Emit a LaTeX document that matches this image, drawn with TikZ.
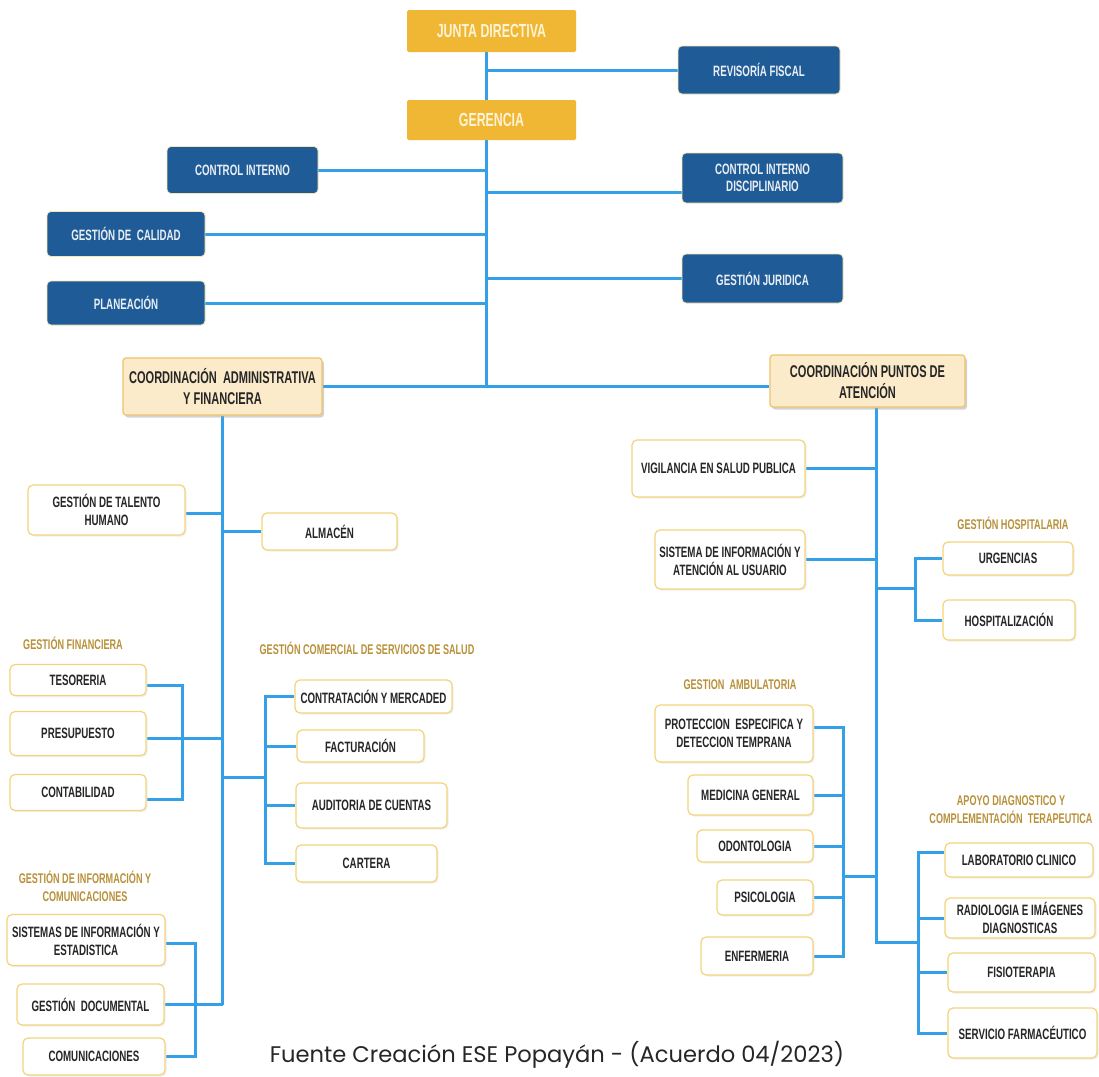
\documentclass[tikz,border=0pt]{standalone}
\usepackage{fontspec}
\usetikzlibrary{shadows,backgrounds}
\newfontfamily\nf[FakeStretch=0.65]{Liberation Sans}
\newfontfamily\capfont{Poppins}
\definecolor{goldf}{HTML}{EFB734}
\definecolor{goldtxt}{HTML}{FFF3D6}
\definecolor{blueb}{HTML}{1F5B97}
\definecolor{bluetxt}{HTML}{E9EEF4}
\definecolor{creamf}{HTML}{FCEBCB}
\definecolor{creamd}{HTML}{EDC46A}
\definecolor{wbord}{HTML}{F3D37A}
\definecolor{conncol}{HTML}{33A0E8}
\definecolor{lblcol}{HTML}{B8913A}
\definecolor{darktxt}{HTML}{262626}
\tikzset{
  sz/.style 2 args={minimum width=#1, minimum height=#2},
  basebox/.style={inner sep=0pt, align=center},
  goldbox/.style={basebox, fill=goldf, rounded corners=1.5pt, text=goldtxt,
    font=\nf\bfseries\fontsize{19}{20}\selectfont},
  bluebox/.style={basebox, fill=blueb, draw=wbord!60, line width=0.8pt, rounded corners=4pt, text=bluetxt,
    font=\nf\bfseries\fontsize{15}{17}\selectfont},
  creambox/.style={basebox, fill=creamf, draw=creamd, line width=1.2pt, rounded corners=3pt, text=darktxt,
    drop shadow={shadow xshift=2pt, shadow yshift=-2.5pt, fill=black!35},
    font=\nf\bfseries\fontsize{17}{21}\selectfont},
  wbox/.style={basebox, fill=white, draw=wbord, line width=1.2pt, rounded corners=5pt, text=darktxt,
    drop shadow={shadow xshift=1.5pt, shadow yshift=-1.5pt, fill=black!12},
    font=\nf\bfseries\fontsize{15}{18}\selectfont},
  grouplbl/.style={inner sep=0pt, align=center, text=lblcol,
    font=\nf\bfseries\fontsize{14}{18}\selectfont},
  conn/.style={draw=conncol, line width=3pt}
}
\begin{document}
\begin{tikzpicture}[x=1pt,y=-1pt]
\useasboundingbox (0,0) rectangle (1099,1076);

% ---- top level ----
\node[goldbox, sz={169}{42}] (JD) at (491.5,31) {JUNTA DIRECTIVA};
\node[goldbox, sz={169}{40}] (GER) at (491.5,120) {GERENCIA};

\node[bluebox, sz={162}{48}] (RF) at (759,70) {REVISORÍA FISCAL};
\node[bluebox, sz={151}{47}] (CI) at (242.5,170) {CONTROL INTERNO};
\node[bluebox, sz={161}{50}] (CID) at (762.5,178) {CONTROL INTERNO\\DISCIPLINARIO};
\node[bluebox, sz={158}{45}] (GC) at (126,234) {GESTIÓN DE\ \ CALIDAD};
\node[bluebox, sz={161}{49}] (GJ) at (762.5,278.5) {GESTIÓN JURIDICA};
\node[bluebox, sz={158}{44}] (PL) at (126,303) {PLANEACIÓN};

\node[creambox, sz={199}{57}] (CAF) at (222.5,386.5) {COORDINACIÓN\ \ ADMINISTRATIVA\\Y FINANCIERA};
\node[creambox, sz={195}{52}] (CPA) at (867.5,381) {COORDINACIÓN PUNTOS DE\\ATENCIÓN};

% ---- administrative side ----
\node[wbox, sz={157}{50}] (TH) at (106.5,510) {GESTIÓN DE TALENTO\\HUMANO};
\node[wbox, sz={135}{37}] (ALM) at (329.5,531.5) {ALMACÉN};

\node[grouplbl] (GF) at (73,643) {GESTIÓN FINANCIERA};
\node[wbox, sz={136}{31}] (TES) at (78,680) {TESORERIA};
\node[wbox, sz={136}{44}] (PRE) at (78,733.5) {PRESUPUESTO};
\node[wbox, sz={136}{36}] (CON) at (78,792.5) {CONTABILIDAD};

\node[grouplbl] (GCS) at (367,648) {GESTIÓN COMERCIAL DE SERVICIOS DE SALUD};
\node[wbox, sz={157}{33}] (CTR) at (373.5,696.5) {CONTRATACIÓN Y MERCADED};
\node[wbox, sz={127}{32}] (FAC) at (360.5,746) {FACTURACIÓN};
\node[wbox, sz={151}{45}] (AUD) at (371.5,805.5) {AUDITORIA DE CUENTAS};
\node[wbox, sz={141}{37}] (CAR) at (366.5,863.5) {CARTERA};

\node[grouplbl] (GIC) at (85,886) {GESTIÓN DE INFORMACIÓN Y\\COMUNICACIONES};
\node[wbox, sz={158}{51}] (SIS) at (86,940) {SISTEMAS DE INFORMACIÓN Y\\ESTADISTICA};
\node[wbox, sz={147}{41}] (DOC) at (90.5,1004.5) {GESTIÓN\ \ DOCUMENTAL};
\node[wbox, sz={142}{37}] (COM) at (94,1056.5) {COMUNICACIONES};

% ---- attention side ----
\node[wbox, sz={173}{57}] (VIG) at (718.5,468.5) {VIGILANCIA EN SALUD PUBLICA};
\node[wbox, sz={150}{59}] (SIA) at (730,559.5) {SISTEMA DE INFORMACIÓN Y\\ATENCIÓN AL USUARIO};

\node[grouplbl] (GH) at (1013,523) {GESTIÓN HOSPITALARIA};
\node[wbox, sz={130}{33}] (URG) at (1008,558.5) {URGENCIAS};
\node[wbox, sz={132}{40}] (HOS) at (1009,620) {HOSPITALIZACIÓN};

\node[grouplbl] (GA) at (740,685) {GESTION\ \ AMBULATORIA};
\node[wbox, sz={158}{57}] (PRO) at (734,733.5) {PROTECCION\ \ ESPECIFICA Y\\DETECCION TEMPRANA};
\node[wbox, sz={125}{40}] (MED) at (750.5,795) {MEDICINA GENERAL};
\node[wbox, sz={116}{32}] (ODO) at (755,846) {ODONTOLOGIA};
\node[wbox, sz={96}{35}] (PSI) at (765,897.5) {PSICOLOGIA};
\node[wbox, sz={112}{38}] (ENF) at (757,956) {ENFERMERIA};

\node[grouplbl] (AD) at (1011,810) {APOYO DIAGNOSTICO Y\\COMPLEMENTACIÓN\ \ TERAPEUTICA};
\node[wbox, sz={148}{34}] (LAB) at (1019,860) {LABORATORIO CLINICO};
\node[wbox, sz={150}{40}] (RAD) at (1020,918) {RADIOLOGIA E IMÁGENES\\DIAGNOSTICAS};
\node[wbox, sz={147}{39}] (FIS) at (1021.5,972.5) {FISIOTERAPIA};
\node[wbox, sz={149}{50}] (SER) at (1022.5,1033) {SERVICIO FARMACÉUTICO};

\node[inner sep=0pt, text=darktxt, font=\capfont\fontsize{22.6}{24}\selectfont] (SRC) at (557,1055)
  {Fuente Creación ESE Popayán - (Acuerdo 04/2023)};

% ---- junction coordinates ----
\coordinate (T) at (486,52);
\coordinate (cj) at (223,777);
\coordinate (ck) at (266,777);
\coordinate (rb) at (876,942);
\coordinate (pb) at (918,942);
\coordinate (hj) at (876,588);
\coordinate (hk) at (915,588);
\coordinate (aj) at (843,876);

\begin{scope}[on background layer]
\fill[white] (0,0) rectangle (1099,1076);
% top trunk
\draw[conn] (JD.south -| T) -- (CAF.east -| T);
\draw[conn] (RF.west -| T) -- (RF.west);
\draw[conn] (CI.east) -- (CI.east -| T);
\draw[conn] ([yshift=-14pt]CID.west) -- ([yshift=-14pt]CID.west -| T);
\draw[conn] (GC.east) -- (GC.east -| T);
\draw[conn] (GJ.west) -- (GJ.west -| T);
\draw[conn] (PL.east) -- (PL.east -| T);
\draw[conn] (CAF.east) -- (CAF.east -| CPA.west);
% administrative
\draw[conn] (CAF.south) -- (CAF.south |- DOC.east);
\draw[conn] ([yshift=-3pt]TH.east) -- ++(37,0);
\draw[conn] (ALM.west) -- ++(-39,0);
\draw[conn] ([yshift=-5pt]TES.east) -- ++(36,0) |- ([yshift=-7pt]CON.east);
\draw[conn] ([yshift=-5pt]PRE.east) -- ++(77,0);
\draw[conn] (cj) -- (ck);
\draw[conn] (CTR.west) -- ++(-29,0) |- (CAR.west);
\draw[conn] (FAC.west) -- ++(-31,0);
\draw[conn] (AUD.west) -- ++(-30,0);
\draw[conn] ([yshift=-3pt]SIS.east) -- ++(30,0) |- (COM.east);
\draw[conn] (DOC.east) -- (DOC.east -| CAF.south);
% attention
\draw[conn] (CPA.south -| rb) -- (rb) -- (pb);
\draw[conn] (VIG.east) -- (VIG.east -| rb);
\draw[conn] (SIA.east) -- (SIA.east -| rb);
\draw[conn] (hj) -- (hk);
\draw[conn] (URG.west) -| (hk) |- (HOS.west);
\draw[conn] (aj) -- (aj -| rb);
\draw[conn] ([yshift=6.5pt]PRO.east) -| (aj) |- (ENF.east);
\draw[conn] (MED.east) -- (MED.east -| aj);
\draw[conn] (ODO.east) -- (ODO.east -| aj);
\draw[conn] (PSI.east) -- (PSI.east -| aj);
\draw[conn] ([yshift=8pt]LAB.west) -| (pb) |- (SER.west);
\draw[conn] (RAD.west) -- (RAD.west -| pb);
\draw[conn] (FIS.west) -- (FIS.west -| pb);
\end{scope}
\end{tikzpicture}
\end{document}
